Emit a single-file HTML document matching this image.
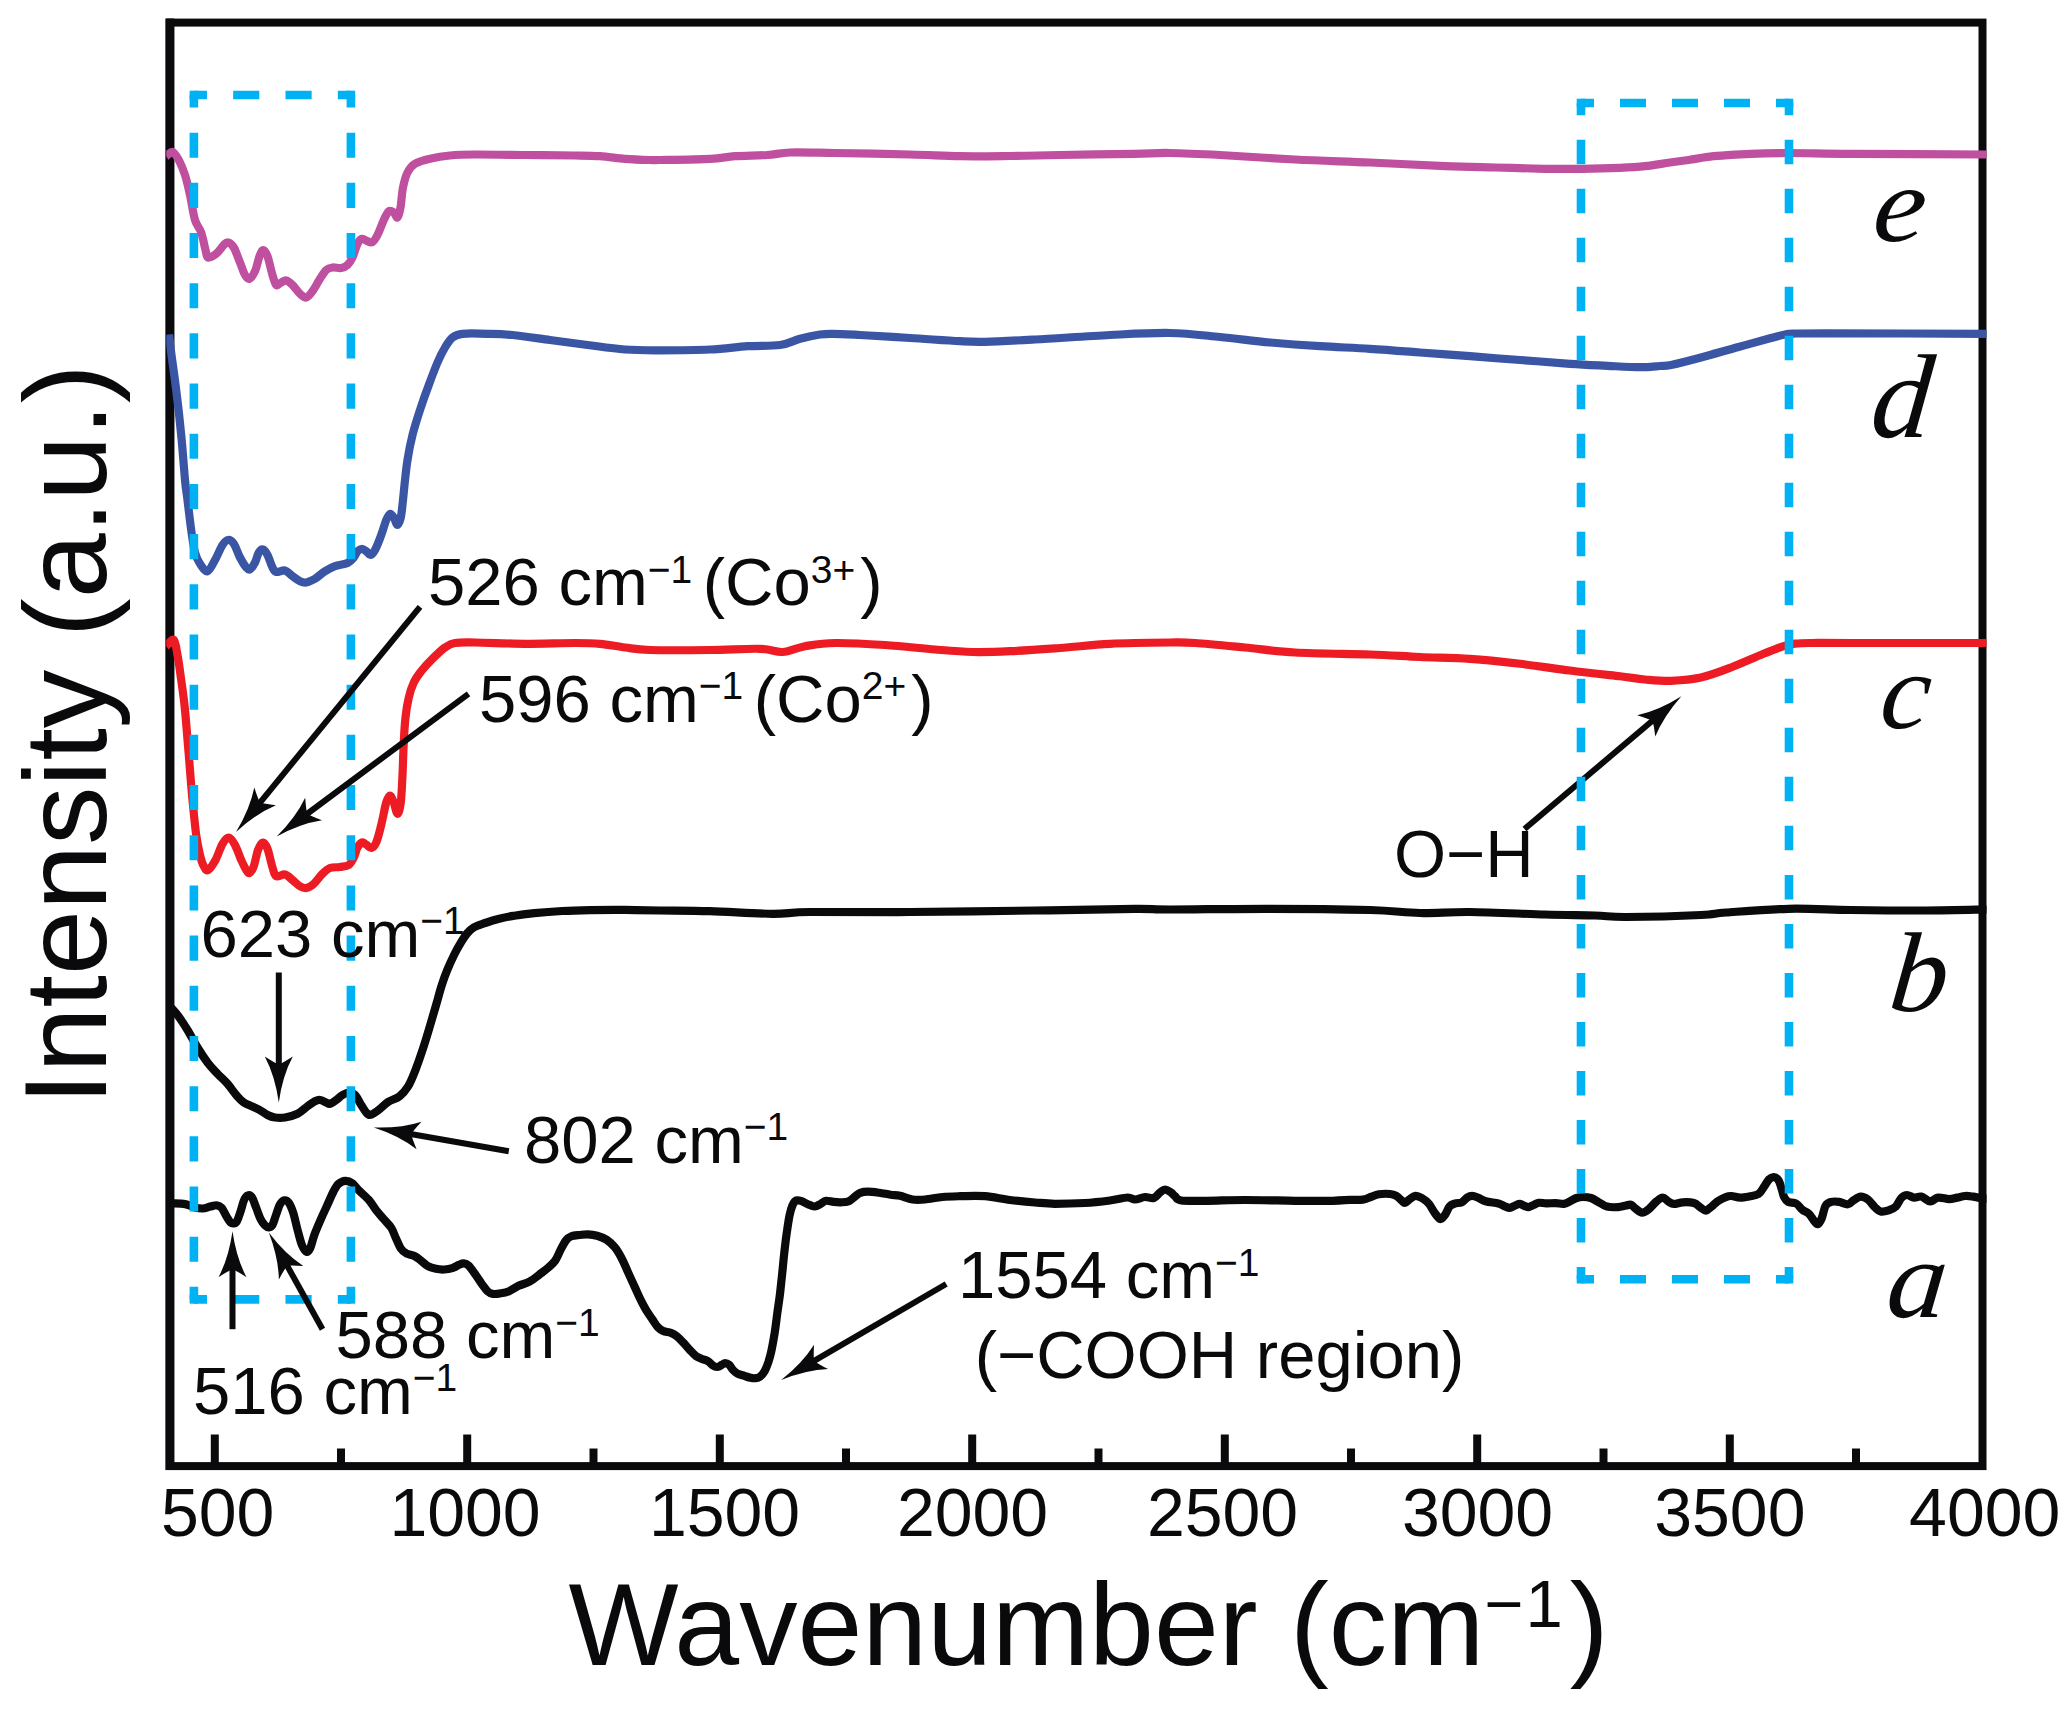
<!DOCTYPE html>
<html lang="en"><head><meta charset="utf-8"><title>FTIR spectra</title>
<style>html,body{margin:0;padding:0;background:#fff}svg{display:block}</style></head>
<body>
<svg width="2068" height="1711" viewBox="0 0 2068 1711" style="display:block">
<rect width="2068" height="1711" fill="#fff"/>
<g id="gfx">
<rect x="170.25" y="22.6" width="1812.25" height="1443.5" fill="none" stroke="#0a0a0c" stroke-width="8"/>
<line x1="169.8" y1="18.6" x2="169.8" y2="1470.1" stroke="#0a0a0c" stroke-width="8.9"/>
<g stroke="#0a0a0c" stroke-width="8"><line x1="214.8" y1="1434.5" x2="214.8" y2="1466.1"/><line x1="341" y1="1448.5" x2="341" y2="1466.1"/><line x1="467.2" y1="1434.5" x2="467.2" y2="1466.1"/><line x1="593.5" y1="1448.5" x2="593.5" y2="1466.1"/><line x1="719.8" y1="1434.5" x2="719.8" y2="1466.1"/><line x1="846" y1="1448.5" x2="846" y2="1466.1"/><line x1="972.2" y1="1434.5" x2="972.2" y2="1466.1"/><line x1="1098.5" y1="1448.5" x2="1098.5" y2="1466.1"/><line x1="1224.8" y1="1434.5" x2="1224.8" y2="1466.1"/><line x1="1351" y1="1448.5" x2="1351" y2="1466.1"/><line x1="1477.2" y1="1434.5" x2="1477.2" y2="1466.1"/><line x1="1603.5" y1="1448.5" x2="1603.5" y2="1466.1"/><line x1="1729.8" y1="1434.5" x2="1729.8" y2="1466.1"/><line x1="1856" y1="1448.5" x2="1856" y2="1466.1"/></g>
<clipPath id="cl"><rect x="166.25" y="0" width="1820.25" height="1711"/></clipPath>
<g fill="none" stroke-linejoin="round" stroke-linecap="butt" stroke-width="8.2" clip-path="url(#cl)">
<path d="M166.2 1203.5C167.3 1203.5 169.5 1203.3 172.6 1203.4C175.7 1203.5 181.5 1203.5 185.1 1204.1C188.7 1204.7 191 1206.5 193.9 1207.2C196.8 1207.9 200 1208.6 202.7 1208.5C205.4 1208.4 208 1207.1 210.3 1206.6C212.6 1206.1 214.7 1205.1 216.6 1205.3C218.5 1205.5 219.9 1205.9 221.6 1207.8C223.3 1209.7 225.1 1214.2 226.6 1216.6C228.1 1219 229.2 1221.1 230.4 1222.3C231.6 1223.5 232.4 1223.6 233.5 1223.5C234.6 1223.4 235.5 1223.7 236.7 1221.7C237.9 1219.7 239.2 1215.3 240.5 1211.6C241.8 1207.9 242.9 1202.4 244.2 1199.7C245.4 1197 246.7 1195.7 248 1195.3C249.3 1194.9 250.4 1195 251.8 1197.1C253.2 1199.2 254.7 1204.1 256.2 1207.8C257.7 1211.5 259.1 1216.2 260.6 1219.1C262.1 1222 263.6 1224 265 1225.4C266.4 1226.8 267.6 1227.4 268.8 1227.3C270.1 1227.2 271.2 1227 272.5 1224.8C273.8 1222.6 275 1217.5 276.3 1214.1C277.6 1210.6 278.7 1206.4 280.1 1204.1C281.5 1201.8 283 1200.5 284.5 1200.3C286 1200.1 287.4 1200.7 288.9 1202.8C290.4 1204.9 291.8 1208.3 293.3 1212.9C294.8 1217.5 296.2 1225.1 297.7 1230.5C299.2 1235.9 300.6 1242 302.1 1245.5C303.6 1249 305.1 1251.4 306.5 1251.8C307.9 1252.2 308.8 1251 310.2 1248.1C311.6 1245.2 312.8 1239 314.6 1234.2C316.4 1229.4 318.8 1223.9 320.9 1219.1C323 1214.3 325.1 1209.9 327.2 1205.3C329.3 1200.7 331.6 1195.1 333.5 1191.5C335.4 1187.9 336.5 1185.7 338.5 1183.9C340.5 1182.1 343.1 1180.9 345.4 1180.8C347.7 1180.7 350.2 1181.7 352.4 1183.3C354.6 1184.9 355.9 1187.5 358.6 1190.2C361.3 1192.9 365.8 1196.4 368.7 1199.7C371.6 1203 373.7 1207.1 376.2 1210.3C378.7 1213.5 381.3 1216.2 383.8 1219.1C386.3 1222 389.3 1224.8 391.3 1227.9C393.3 1231.1 394.2 1234.6 395.8 1238C397.4 1241.4 399.1 1246 400.8 1248.5C402.5 1251 403.9 1252 406.2 1253.3C408.5 1254.5 411.9 1254.8 414.4 1256C416.9 1257.2 418.9 1259 421.1 1260.7C423.4 1262.4 425.4 1264.8 427.9 1266.1C430.4 1267.4 433.3 1268.2 436 1268.8C438.7 1269.4 441.5 1269.6 444.2 1269.5C446.9 1269.4 449.8 1269 452.3 1268.2C454.8 1267.4 457.1 1265.6 459 1264.8C460.9 1264 462.2 1263.3 463.8 1263.4C465.4 1263.5 466.6 1263.6 468.5 1265.4C470.4 1267.2 473 1271.1 475.3 1274.3C477.6 1277.5 480.1 1281.6 482.1 1284.4C484.1 1287.2 485.7 1289.6 487.5 1291.2C489.3 1292.8 490.6 1293.6 492.9 1293.9C495.1 1294.2 498.3 1293.7 501 1293.2C503.7 1292.8 506.2 1292.4 509.1 1291.2C512 1290 515.2 1287.4 518.6 1285.8C522 1284.2 526.1 1283.5 529.5 1281.7C532.9 1279.9 535.8 1277.3 538.9 1274.9C542 1272.5 545.7 1269.9 548.4 1267.5C551.1 1265.1 553.2 1263.6 555.2 1260.7C557.2 1257.8 558.8 1253.3 560.6 1249.9C562.4 1246.5 564.2 1242.7 566 1240.4C567.8 1238.1 569.1 1237.2 571.4 1236.3C573.6 1235.4 576.8 1235.3 579.5 1235C582.2 1234.7 584.8 1234.2 587.7 1234.3C590.6 1234.4 594 1234.8 597.1 1235.7C600.2 1236.6 603.7 1237.8 606.6 1239.7C609.5 1241.6 612.2 1244.2 614.7 1247.2C617.2 1250.2 619.2 1253.7 621.5 1258C623.8 1262.3 626 1267.9 628.3 1272.9C630.6 1277.9 633.1 1283.4 635.1 1287.8C637.1 1292.2 638.6 1295.8 640.5 1299.5C642.4 1303.2 644.2 1306.8 646.2 1310.1C648.2 1313.4 650.5 1316.6 652.4 1319.4C654.3 1322.2 656 1325.2 657.8 1327.1C659.6 1329 661 1330 663.2 1331C665.4 1332 668.6 1332 670.9 1332.9C673.2 1333.8 675 1334.8 677.1 1336.4C679.2 1338 681.2 1340.4 683.3 1342.6C685.4 1344.8 687.4 1347.4 689.5 1349.6C691.6 1351.8 693.6 1354.2 695.7 1355.8C697.8 1357.3 699.8 1358 701.9 1358.9C704 1359.8 706.3 1360.1 708.1 1361.2C709.9 1362.3 711.2 1364.4 712.7 1365.4C714.2 1366.4 715.9 1367.1 717.4 1367C718.9 1366.9 720.7 1365.4 722 1364.7C723.3 1364 723.9 1363.1 725.1 1363.1C726.3 1363.1 727.7 1363.6 729 1364.7C730.3 1365.8 731.4 1368.2 732.8 1369.7C734.2 1371.2 735.6 1372.6 737.5 1373.6C739.4 1374.6 742.2 1375.2 744.4 1375.9C746.6 1376.6 748.8 1377.4 750.6 1377.8C752.4 1378.2 753.8 1378.4 755.3 1378.2C756.8 1378 758.3 1377.9 759.9 1376.7C761.5 1375.5 763.2 1373.7 764.6 1371.2C766 1368.8 767.2 1365.5 768.4 1362C769.5 1358.5 770.5 1355.1 771.5 1350.3C772.5 1345.5 773.6 1339.5 774.6 1333.3C775.6 1327.1 776.5 1319.2 777.3 1313.2C778.1 1307.2 778.8 1303.1 779.6 1297C780.4 1290.9 781.1 1283.6 781.9 1276.4C782.7 1269.2 783.4 1260.6 784.2 1253.6C785 1246.6 785.6 1240.9 786.5 1234.6C787.4 1228.3 788.5 1220.5 789.5 1215.6C790.5 1210.7 791.5 1207.5 792.6 1205C793.8 1202.5 794.9 1201 796.4 1200.4C797.9 1199.8 799.8 1200.6 801.7 1201.2C803.6 1201.8 805.6 1203.3 807.8 1204.2C809.9 1205.1 812.5 1206.6 814.6 1206.5C816.8 1206.4 818.8 1204.8 820.7 1203.8C822.6 1202.8 823.9 1201.1 826 1200.8C828.1 1200.5 831.1 1201.7 833.6 1201.9C836.1 1202.2 838.7 1202.4 841.2 1202.3C843.7 1202.2 846.5 1202.2 848.8 1201.2C851.1 1200.2 853 1198 854.9 1196.6C856.8 1195.2 858.1 1193.6 860.2 1192.8C862.4 1192 864.6 1191.7 867.8 1191.7C871 1191.7 875.4 1192.3 879.2 1192.8C883 1193.3 887.1 1194.2 890.6 1194.7C894.1 1195.2 896.4 1195 900 1195.8C903.6 1196.6 908.3 1198.9 912.5 1199.5C916.7 1200.1 920 1199.9 925 1199.5C930 1199.1 936.7 1197.5 942.5 1197C948.3 1196.5 952.9 1196.4 960 1196.2C967.1 1196.1 976.7 1195.6 985 1196.2C993.3 1196.9 1001.7 1199 1010 1200C1018.3 1201 1027.5 1201.9 1035 1202.5C1042.5 1203.1 1046.7 1203.7 1055 1203.8C1063.3 1203.8 1075.8 1203.5 1085 1203C1094.2 1202.5 1102.9 1201.4 1110 1200.5C1117.1 1199.6 1123.3 1197.7 1127.5 1197.5C1131.7 1197.3 1132.1 1199.6 1135 1199.5C1137.9 1199.4 1141.9 1197.2 1145 1197C1148.1 1196.8 1151.2 1198.8 1153.8 1198C1156.2 1197.2 1158.1 1193.9 1160 1192.5C1161.9 1191.1 1163.2 1189.5 1165 1189.5C1166.8 1189.5 1169.3 1191.4 1171 1192.5C1172.7 1193.6 1173.3 1194.9 1175 1196.2C1176.7 1197.6 1175.8 1199.8 1181.2 1200.5C1186.7 1201.2 1196.9 1200.8 1207.5 1200.8C1218.1 1200.7 1230.4 1200 1245 1200C1259.6 1200 1280.4 1200.6 1295 1200.8C1309.6 1200.9 1323.3 1200.9 1332.5 1200.8C1341.7 1200.6 1345 1200.1 1350 1199.9C1355 1199.7 1359.3 1200.1 1362.8 1199.6C1366.2 1199.1 1368 1197.9 1370.7 1197C1373.4 1196.1 1375.5 1194.8 1378.7 1194.3C1381.9 1193.8 1387 1193.7 1389.9 1194C1392.8 1194.3 1394.3 1194.8 1396.3 1195.9C1398.3 1197 1400.5 1199.6 1401.9 1200.7C1403.4 1201.8 1403.7 1203.1 1405 1202.8C1406.3 1202.5 1408.1 1200.2 1409.8 1199.1C1411.5 1197.9 1413.4 1196.1 1415.4 1195.9C1417.4 1195.7 1419.5 1196.7 1421.8 1198C1424.1 1199.3 1426.9 1201.5 1429 1203.9C1431.1 1206.4 1432.7 1210.2 1434.6 1212.7C1436.5 1215.2 1438.5 1218.6 1440.2 1219C1441.9 1219.4 1443.3 1217.1 1444.9 1215C1446.5 1212.9 1448 1208.2 1449.7 1206.3C1451.4 1204.4 1453.3 1204.1 1455.3 1203.4C1457.3 1202.7 1459.7 1203.3 1461.7 1202.3C1463.7 1201.3 1465.6 1198.6 1467.3 1197.5C1469 1196.4 1470.4 1195.9 1472.1 1195.9C1473.8 1195.9 1475.5 1196.6 1477.7 1197.5C1480 1198.4 1482.1 1200.2 1485.6 1201.2C1489 1202.2 1495.2 1202.6 1498.4 1203.4C1501.6 1204.2 1502.9 1205.5 1504.8 1206.3C1506.7 1207 1507.9 1208 1509.6 1207.9C1511.3 1207.8 1513.5 1206.2 1515.2 1205.5C1516.9 1204.8 1518.3 1203.8 1519.9 1203.9C1521.5 1204 1523.2 1205.5 1524.7 1206C1526.2 1206.5 1527.2 1207.3 1528.7 1207.1C1530.2 1206.9 1531.8 1205.7 1533.5 1205C1535.2 1204.3 1537 1203.1 1539.1 1202.8C1541.2 1202.5 1543.5 1203.4 1546.3 1203.4C1549.1 1203.5 1552.9 1203 1555.8 1203.1C1558.7 1203.2 1561.4 1204.2 1563.8 1203.9C1566.2 1203.6 1568.1 1202.2 1570.2 1201.2C1572.3 1200.2 1574.5 1198.7 1576.6 1198C1578.7 1197.3 1580.6 1197 1583 1197C1585.4 1197 1588.2 1197.1 1590.9 1198C1593.6 1198.9 1596.2 1200.9 1598.9 1202.3C1601.6 1203.7 1603.7 1205.8 1606.9 1206.6C1610.1 1207.4 1614.9 1207.3 1618.1 1207.1C1621.3 1206.9 1623.9 1205.9 1626 1205.5C1628.1 1205.1 1629.2 1204.2 1630.8 1204.7C1632.4 1205.2 1633.7 1207.4 1635.6 1208.7C1637.5 1210 1639.9 1212.6 1642 1212.7C1644.1 1212.8 1646 1211.4 1648.4 1209.5C1650.8 1207.6 1654 1203.5 1656.4 1201.5C1658.8 1199.5 1660.7 1197.5 1662.7 1197.5C1664.7 1197.5 1666.4 1200.4 1668.3 1201.5C1670.2 1202.6 1671.5 1203.8 1673.9 1203.9C1676.3 1204 1679.5 1202.5 1682.8 1202.3C1686.1 1202.1 1691 1202.2 1693.9 1203C1696.8 1203.8 1698.3 1206.1 1700.3 1207.4C1702.3 1208.7 1704 1210.7 1705.9 1210.6C1707.8 1210.5 1709.5 1208.2 1711.5 1206.6C1713.5 1205 1715.5 1202.7 1717.9 1201.1C1720.3 1199.5 1723.5 1197.9 1725.8 1197.1C1728 1196.2 1729 1195.9 1731.4 1196C1733.8 1196.1 1737.1 1197.5 1740.2 1197.6C1743.3 1197.6 1746.7 1196.9 1749.8 1196.3C1752.9 1195.7 1756.2 1195.5 1758.6 1193.9C1761 1192.3 1762.4 1189.1 1764.1 1186.7C1765.8 1184.3 1767.3 1181.1 1768.9 1179.5C1770.5 1177.9 1772.1 1177 1773.7 1177.1C1775.3 1177.2 1777.2 1178.3 1778.5 1180.3C1779.8 1182.3 1780.8 1186.3 1781.7 1189.1C1782.6 1191.9 1783 1195 1784.1 1197.1C1785.2 1199.2 1786.1 1200.8 1788.1 1201.9C1790.1 1203 1793.7 1202.2 1796.1 1203.5C1798.5 1204.8 1800.3 1208.1 1802.4 1209.8C1804.5 1211.5 1806.9 1212.1 1808.8 1213.8C1810.7 1215.5 1812.1 1218.5 1813.6 1220.2C1815.1 1221.9 1816.3 1224.5 1817.6 1224.2C1818.9 1223.9 1820.3 1221.7 1821.6 1218.6C1822.9 1215.5 1824 1208.6 1825.6 1205.8C1827.2 1203 1829 1202.6 1831.2 1201.9C1833.5 1201.2 1836.3 1201.5 1839.1 1201.9C1841.9 1202.3 1845.5 1204.6 1847.9 1204.3C1850.3 1204 1851.4 1201.6 1853.5 1200.3C1855.6 1199 1858.3 1196.7 1860.7 1196.6C1863.1 1196.5 1865.5 1197.7 1867.9 1199.5C1870.3 1201.3 1872.9 1205.4 1875 1207.4C1877.1 1209.4 1878.3 1210.9 1880.6 1211.4C1882.9 1211.9 1886.1 1211.1 1888.6 1210.3C1891.1 1209.5 1893.7 1208.7 1895.8 1206.6C1897.9 1204.5 1899.5 1199.8 1901.4 1197.9C1903.3 1196 1904.9 1195 1907 1195C1909.1 1195 1911.7 1197.3 1914.1 1197.6C1916.5 1197.9 1918.6 1196 1921.3 1196.6C1924 1197.2 1927.3 1201.2 1930.1 1201.4C1932.9 1201.6 1934.9 1198 1938.1 1197.6C1941.3 1197.2 1946 1199.1 1949.2 1199.1C1952.4 1199.1 1954.5 1198.1 1957.2 1197.6C1959.9 1197.1 1962.5 1196.2 1965.2 1196C1967.9 1195.8 1970.8 1196.3 1973.2 1196.6C1975.6 1196.9 1977.4 1197.6 1979.6 1197.9C1981.8 1198.2 1984.3 1198.6 1986.5 1198.7C1988.7 1198.8 1991.5 1198.7 1992.5 1198.7" stroke="#0a0a0c"/>
<path d="M166.2 1002.5C168.1 1004.6 174 1010.4 177.5 1015C181 1019.6 184.2 1024.6 187.5 1030C190.8 1035.4 194.2 1042.1 197.5 1047.5C200.8 1052.9 204.2 1058.1 207.5 1062.5C210.8 1066.9 214.2 1070.2 217.5 1073.8C220.8 1077.3 224.4 1080.2 227.5 1083.8C230.6 1087.3 233.5 1091.9 236.2 1095C239 1098.1 240.2 1100.2 243.8 1102.5C247.3 1104.8 253.5 1106.7 257.5 1108.8C261.5 1110.8 264.6 1113.5 267.5 1115C270.4 1116.5 272.1 1117.1 275 1117.5C277.9 1117.9 281.2 1118.1 285 1117.5C288.8 1116.9 293.8 1115.6 297.5 1113.8C301.2 1111.9 304.6 1108.3 307.5 1106.2C310.4 1104.2 312.9 1102.3 315 1101.2C317.1 1100.2 318.1 1099.8 320 1100C321.9 1100.2 324.6 1101.9 326.2 1102.5C327.9 1103.1 328.3 1104.2 330 1103.8C331.7 1103.3 334.2 1101.5 336.2 1100C338.3 1098.5 340.4 1096.2 342.5 1095C344.6 1093.8 346.7 1092.5 348.8 1092.5C350.8 1092.5 352.9 1092.9 355 1095C357.1 1097.1 359.4 1102.1 361.2 1105C363.1 1107.9 364.8 1110.8 366.2 1112.5C367.7 1114.2 368.5 1115 370 1115C371.5 1115 373.3 1113.5 375 1112.5C376.7 1111.5 377.8 1110.6 380 1108.8C382.2 1107 385.1 1103.9 388.4 1101.8C391.7 1099.7 396.3 1098.8 399.6 1096.2C402.9 1093.6 405.5 1090.6 408.1 1086.4C410.7 1082.2 412.8 1076.8 415.1 1070.9C417.4 1065.1 419.8 1058.3 422.1 1051.3C424.4 1044.3 426.8 1036.5 429.1 1028.8C431.4 1021.1 434 1012.2 436.1 1005C438.2 997.8 439.8 991.2 441.7 985.4C443.6 979.5 445.2 975 447.3 969.9C449.4 964.8 452 959.2 454.3 954.5C456.6 949.8 459.2 945.4 461.3 941.9C463.4 938.4 464.9 936 467 933.5C469.1 931 471 929 474 927.2C477 925.5 481 924.4 485.2 923C489.4 921.6 494.5 920 499.2 918.8C503.9 917.6 507.4 916.8 513.2 915.9C519.1 915 526.1 913.9 534.3 913.1C542.5 912.3 552.9 911.5 562.3 911C571.6 910.5 579.9 910.3 590.4 910.1C600.9 909.9 613.4 909.8 625 909.9C636.6 910 645.8 910.3 660 910.5C674.2 910.7 691.2 910.7 710 911.2C728.8 911.8 755.8 913.6 772.5 913.8C789.2 913.9 787.1 912.3 810 912C832.9 911.7 872.5 912.2 910 912C947.5 911.8 997.5 911 1035 910.5C1072.5 910 1112.5 908.9 1135 908.8C1157.5 908.6 1147.5 909.5 1170 909.5C1192.5 909.5 1236.7 908.7 1270 908.8C1303.3 908.8 1345 909.3 1370 910C1395 910.7 1403.3 912.7 1420 913C1436.7 913.3 1449.2 911.8 1470 912C1490.8 912.2 1524.2 913.9 1545 914.5C1565.8 915.1 1581.5 915.1 1595 915.5C1608.5 915.9 1608.3 917.1 1626 917C1643.7 916.9 1684.3 915.8 1701 915C1717.7 914.2 1711.4 913.5 1726 912.5C1740.6 911.5 1767.7 909.2 1788.5 908.8C1809.3 908.3 1828.1 909.7 1851 910C1873.9 910.3 1903.4 910.6 1926 910.5C1948.6 910.4 1975.4 909.7 1986.5 909.5C1997.6 909.3 1991.5 909.5 1992.5 909.5" stroke="#0a0a0c"/>
<path d="M166.2 646.2C167.5 645.2 171.9 638.5 173.8 640C175.6 641.5 176.2 648.3 177.5 655C178.8 661.7 180 670.8 181.2 680C182.5 689.2 183.8 697.5 185 710C186.2 722.5 187.5 740 188.8 755C190 770 191.2 786.7 192.5 800C193.8 813.3 195 825.8 196.2 835C197.5 844.2 198.8 849.8 200 855C201.2 860.2 202.4 863.8 203.8 866.2C205.1 868.8 206 871 208 870C210 869 213.1 864.4 215.5 860C217.9 855.6 220.3 847.5 222.5 843.8C224.7 840 226.7 837.3 228.8 837.5C230.8 837.7 232.9 841.2 235 845C237.1 848.8 239.4 855.8 241.2 860C243.1 864.2 244.9 867.8 246.2 870C247.6 872.2 248.2 873.6 249.5 873C250.8 872.4 252.3 870.1 253.8 866.2C255.2 862.4 256.5 854 258 850C259.5 846 261.4 842.7 263 842.5C264.6 842.3 265.9 844.6 267.5 848.8C269.1 852.9 271 862.9 272.5 867.5C274 872.1 274.2 875.1 276.2 876.2C278.3 877.4 282.3 873.9 285 874.5C287.7 875.1 290 878 292.5 880C295 882 297.7 884.9 300 886.2C302.3 887.6 304 888.4 306.2 888C308.5 887.6 311 886.1 313.8 883.8C316.5 881.4 319.8 876.4 322.5 873.8C325.2 871.1 327.1 869.1 330 868C332.9 866.9 336.9 867.5 340 867C343.1 866.5 346.5 866.6 348.8 865C351 863.4 352.3 860.4 353.8 857.5C355.2 854.6 356.1 850 357.5 847.5C358.9 845 360.5 843 362 842.5C363.5 842 364.7 843.6 366.2 844.5C367.8 845.4 369.6 848.3 371.2 848C372.9 847.7 374.6 846.3 376.2 842.5C377.9 838.7 379.6 831.7 381.2 825C382.9 818.3 384.8 807.4 386.2 802.5C387.7 797.6 388.8 795.5 390 795.5C391.2 795.5 392.5 799.5 393.8 802.5C395 805.5 396.3 813.8 397.5 813.8C398.7 813.8 399.9 809 400.8 802.5C401.6 796 402 785 402.5 775C403 765 403.2 752.1 403.8 742.5C404.2 732.9 404.7 725 405.5 717.5C406.3 710 407.4 703.3 408.8 697.5C410.1 691.7 411.7 686.9 413.8 682.5C415.8 678.1 418.1 675.2 421.2 671.2C424.4 667.3 428.5 662.7 432.5 658.8C436.5 654.8 441.2 650.1 445 647.5C448.8 644.9 450 643.8 455 643C460 642.2 463.3 642.4 475 642.5C486.7 642.6 508.3 643.7 525 643.8C541.7 643.8 562.5 643 575 643C587.5 643 591.7 643 600 643.8C608.3 644.5 616.7 646.5 625 647.5C633.3 648.5 635.8 649.6 650 650C664.2 650.4 691.7 650.2 710 650C728.3 649.8 747.9 648.4 760 648.8C772.1 649.1 775 652.4 782.5 652C790 651.6 796.2 647.8 805 646.2C813.8 644.8 821.7 643.2 835 643C848.3 642.8 868.3 643.9 885 645C901.7 646.1 920.4 648.3 935 649.5C949.6 650.7 960 651.7 972.5 652C985 652.3 995.4 651.9 1010 651.2C1024.6 650.6 1043.3 649.2 1060 648C1076.7 646.8 1091.7 644.7 1110 643.8C1128.3 642.8 1155.8 642.6 1170 642.5C1184.2 642.4 1182.5 642.2 1195 643C1207.5 643.8 1228.3 645.9 1245 647.5C1261.7 649.1 1274.2 651.3 1295 652.5C1315.8 653.7 1349.2 653.8 1370 654.5C1390.8 655.2 1403.3 656.3 1420 657C1436.7 657.7 1453.3 657.6 1470 658.8C1486.7 659.9 1503.3 661.8 1520 663.8C1536.7 665.7 1553.3 668.4 1570 670.5C1586.7 672.6 1607.5 674.8 1620 676.2C1632.5 677.8 1636.5 678.8 1645 679.5C1653.5 680.2 1661.7 681.1 1671 680.8C1680.3 680.4 1691 679.7 1701 677.5C1711 675.3 1720.6 671.5 1731 667.5C1741.4 663.5 1754.8 657.3 1763.5 653.8C1772.2 650.2 1777.8 648 1783 646.3C1788.2 644.6 1790.2 644.1 1795 643.6C1799.8 643.1 1802.7 643.1 1812 643C1821.3 642.9 1821.9 643 1851 643C1880.1 643 1962.9 643 1986.5 643C2010.1 643 1991.5 643 1992.5 643" stroke="#ed1c24"/>
<path d="M169 334.5C169.4 337.9 170.3 345.8 171.5 355C172.7 364.2 174.6 376.7 176.2 390C177.9 403.3 179.8 420 181.2 435C182.7 450 184 469.2 185 480C186 490.8 186.5 491.7 187.5 500C188.5 508.3 190 521.2 191.2 530C192.5 538.8 193.5 546.9 195 552.5C196.5 558.1 197.9 560.6 200 563.8C202.1 566.9 205 571.9 207.5 571.2C210 570.6 212.5 564.4 215 560C217.5 555.6 220.3 548.3 222.5 545C224.7 541.7 226.1 540.2 228 540C229.9 539.8 231.8 540.8 233.8 543.8C235.8 546.7 237.9 553.5 240 557.5C242.1 561.5 244.6 565.5 246.2 567.5C247.9 569.5 248.5 570.3 250 569.5C251.5 568.7 253.5 565.3 255 562.5C256.5 559.7 257.4 554.7 258.8 552.5C260.1 550.3 261.5 549.1 263 549.5C264.5 549.9 265.9 552 267.5 555C269.1 558 271 564.7 272.5 567.5C274 570.3 274.2 571.5 276.2 572C278.3 572.5 282.3 569.8 285 570.5C287.7 571.2 290 574.5 292.5 576.2C295 578 297.7 580.2 300 581.2C302.3 582.3 303.8 582.9 306.2 582.5C308.8 582.1 311.9 580.6 315 578.8C318.1 576.9 321.7 573.3 325 571.2C328.3 569.2 331.2 567.6 335 566.2C338.8 564.9 344.4 564.5 347.5 563C350.6 561.5 352.1 559.5 353.8 557.5C355.4 555.5 356.1 552.7 357.5 551.2C358.9 549.8 360.5 548.8 362 548.8C363.5 548.8 364.8 550.2 366.2 551.2C367.7 552.3 369 555.2 370.5 555C372 554.8 373.2 553.3 375 550C376.8 546.7 379.4 540 381.2 535C383.1 530 384.8 523.5 386.2 520C387.7 516.5 388.8 514.2 390 513.8C391.2 513.3 392.5 515.6 393.8 517.5C395 519.4 396.3 525 397.5 525C398.7 525 399.8 521.7 400.8 517.5C401.7 513.3 402.4 505.4 403 500C403.6 494.6 403.8 491.7 404.5 485C405.2 478.3 406.2 468.3 407.5 460C408.8 451.7 410.4 443.3 412.5 435C414.6 426.7 417.3 418.3 420 410C422.7 401.7 425.8 392.9 428.8 385C431.7 377.1 434.8 368.8 437.5 362.5C440.2 356.2 442.5 351.7 445 347.5C447.5 343.3 449.6 339.8 452.5 337.5C455.4 335.2 456.7 334.4 462.5 333.8C468.3 333.1 479.2 333.5 487.5 333.8C495.8 334 502.1 334 512.5 335C522.9 336 537.5 338.3 550 340C562.5 341.7 575 343.4 587.5 345C600 346.6 612.9 348.6 625 349.5C637.1 350.4 645.8 350.3 660 350.3C674.2 350.3 695.4 350.2 710 349.5C724.6 348.8 735.8 347 747.5 346.2C759.2 345.5 771.2 346.2 780 345C788.8 343.8 793.3 340.5 800 338.8C806.7 337 814.6 335.3 820 334.5C825.4 333.7 825.8 333.7 832.5 333.8C839.2 333.8 847.1 334.3 860 335C872.9 335.7 893.3 337 910 338C926.7 339 947.5 340.6 960 341.2C972.5 341.9 972.5 342 985 341.8C997.5 341.5 1014.2 340.6 1035 339.5C1055.8 338.4 1087.5 336.1 1110 335C1132.5 333.9 1151.7 332.7 1170 333C1188.3 333.3 1203.3 335.4 1220 337C1236.7 338.6 1253.3 341 1270 342.5C1286.7 344 1303.3 345.2 1320 346.2C1336.7 347.3 1353.3 347.7 1370 348.8C1386.7 349.8 1403.3 351.2 1420 352.5C1436.7 353.8 1453.3 355 1470 356.2C1486.7 357.5 1503.3 358.8 1520 360C1536.7 361.2 1555.4 362.8 1570 363.8C1584.6 364.7 1595.8 365.2 1607.5 365.8C1619.2 366.4 1631.2 367.2 1640 367.2C1648.8 367.2 1654.8 366.4 1660 366C1665.2 365.6 1664.2 366.4 1671 365C1677.8 363.6 1689.8 360.5 1701 357.5C1712.2 354.5 1726.8 350.2 1738.5 347C1750.2 343.8 1763.4 340 1771 338C1778.6 336 1780.3 335.5 1784 334.8C1787.7 334.1 1786 333.9 1793 333.6C1800 333.4 1793.8 333.3 1826 333.3C1858.2 333.3 1958.8 333.7 1986.5 333.8C2014.2 333.8 1991.5 333.8 1992.5 333.8" stroke="#3b55a5"/>
<path d="M166.2 156.2C167.3 155.5 170.4 151.4 172.5 152C174.6 152.6 176.7 156.2 178.8 160C180.8 163.8 183.1 169.2 185 175C186.9 180.8 188.3 187.5 190 195C191.7 202.5 193.1 213.8 195 220C196.9 226.2 199.5 227.5 201.2 232.5C203 237.5 204.4 245.8 205.5 250C206.6 254.2 206.2 256.9 208 257.5C209.8 258.1 213.6 255.8 216.2 253.8C218.9 251.7 221.8 246.9 223.8 245C225.7 243.1 226.3 242.1 228 242.5C229.7 242.9 231.8 244.2 233.8 247.5C235.8 250.8 238.1 257.9 240 262.5C241.9 267.1 243.4 272.3 245 275C246.6 277.7 247.8 279.4 249.5 278.8C251.2 278.1 253.3 275 255 271.2C256.7 267.5 258.1 259.8 259.5 256.2C260.9 252.7 261.9 250 263.2 250C264.6 250 266 252.1 267.5 256.2C269 260.4 271 270.2 272.5 275C274 279.8 274.8 283.8 276.2 285C277.7 286.2 279.6 283.2 281.2 282.5C282.9 281.8 284.4 280.1 286.2 280.5C288.1 280.9 290.2 282.8 292.5 285C294.8 287.2 297.7 291.7 300 293.8C302.3 295.8 304.2 297.9 306.2 297.5C308.3 297.1 310.2 294.4 312.5 291.2C314.8 288.1 317.7 282.3 320 278.8C322.3 275.2 324.2 271.9 326.2 270C328.3 268.1 330 267.8 332.5 267.5C335 267.2 338.8 268.4 341.2 268C343.8 267.6 345.6 266.8 347.5 265C349.4 263.2 350.8 261 352.5 257.5C354.2 254 355.9 246.9 357.5 243.8C359.1 240.6 360.3 239.2 362 238.8C363.7 238.3 365.8 240.7 367.5 241.2C369.2 241.8 370.8 243 372.5 242C374.2 241 375.6 238.7 377.5 235C379.4 231.3 381.9 224 383.8 220C385.6 216 387.1 212.5 388.8 211.2C390.4 210 392.3 211.5 393.8 212.5C395.2 213.5 396.4 218.3 397.5 217.5C398.6 216.7 399.6 212.5 400.5 207.5C401.4 202.5 401.8 193.3 403 187.5C404.2 181.7 405.5 176.5 407.5 172.5C409.5 168.5 411.2 166 415 163.8C418.8 161.5 424.2 160.1 430 158.8C435.8 157.4 442.5 156.2 450 155.5C457.5 154.8 462.5 154.6 475 154.5C487.5 154.4 508.3 154.8 525 155C541.7 155.2 562.5 155.3 575 155.5C587.5 155.7 591.7 155.7 600 156.2C608.3 156.8 616.7 158.1 625 158.8C633.3 159.4 644.2 159.8 650 160C655.8 160.2 650 160.2 660 160C670 159.8 697.5 159.4 710 158.8C722.5 158.1 725.4 156.9 735 156.2C744.6 155.6 758.3 155.6 767.5 155C776.7 154.4 778.8 152.8 790 152.5C801.2 152.2 815 152.7 835 153C855 153.3 889.2 154 910 154.5C930.8 155 943.3 156 960 156.2C976.7 156.5 993.3 156.2 1010 156C1026.7 155.8 1039.2 155.4 1060 155C1080.8 154.6 1116.7 154.1 1135 153.8C1153.3 153.4 1155.8 152.8 1170 153C1184.2 153.2 1199.2 153.9 1220 155C1240.8 156.1 1270 158.2 1295 159.5C1320 160.8 1345 161.4 1370 162.5C1395 163.6 1424.2 165.4 1445 166.2C1465.8 167.1 1478.3 167.1 1495 167.5C1511.7 167.9 1530.4 168.5 1545 168.8C1559.6 169 1570 168.9 1582.5 168.8C1595 168.6 1609.6 168.2 1620 167.8C1630.4 167.4 1636.7 167.1 1645 166.2C1653.3 165.4 1662.8 163.5 1670 162.5C1677.2 161.5 1681.2 161 1688.5 160C1695.8 159 1703.1 157.3 1713.5 156.2C1723.9 155.2 1738.5 154.3 1751 153.8C1763.5 153.2 1771.8 153 1788.5 153C1805.2 153 1818 153.5 1851 153.8C1884 154 1962.9 154.4 1986.5 154.5C2010.1 154.6 1991.5 154.5 1992.5 154.5" stroke="#bf509f"/>
</g>
<g stroke="#00b2f3" stroke-width="8.6" fill="none">
<line x1="193.9" y1="95" x2="350.9" y2="95" stroke-dasharray="26.167 26.167" stroke-dashoffset="13.083"/>
<line x1="193.9" y1="1299.4" x2="350.9" y2="1299.4" stroke-dasharray="26.167 26.167" stroke-dashoffset="13.083"/>
<line x1="193.9" y1="95" x2="193.9" y2="1299.4" stroke-dasharray="25.092 25.092" stroke-dashoffset="12.546"/>
<line x1="350.9" y1="95" x2="350.9" y2="1299.4" stroke-dasharray="25.092 25.092" stroke-dashoffset="12.546"/>
</g>
<g fill="#00b2f3">
<rect x="189.6" y="90.7" width="8.6" height="8.6"/>
<rect x="346.6" y="90.7" width="8.6" height="8.6"/>
<rect x="189.6" y="1295.1" width="8.6" height="8.6"/>
<rect x="346.6" y="1295.1" width="8.6" height="8.6"/>
</g>
<line x1="420" y1="606.8" x2="258.8" y2="804.1" stroke="#0a0a0c" stroke-width="6.0"/><path d="M236 832Q250 808.9 254.3 787.5Q258 798.9 260 802.6Q264 803.9 275.9 805.2Q255.8 813.7 236 832Z" fill="#0a0a0c"/>
<line x1="468.5" y1="693.8" x2="305.6" y2="815" stroke="#0a0a0c" stroke-width="6.0"/><path d="M276.7 836.5Q295.8 817.5 305.2 797.8Q306.1 809.8 307.2 813.8Q310.7 816.1 322 820.3Q300.4 823.6 276.7 836.5Z" fill="#0a0a0c"/>
<line x1="1524.5" y1="829" x2="1653.9" y2="719.5" stroke="#0a0a0c" stroke-width="6.0"/><path d="M1681.4 696.2Q1663.5 716.3 1655.3 736.6Q1653.8 724.7 1652.4 720.7Q1648.7 718.7 1637.2 715.2Q1658.6 710.6 1681.4 696.2Z" fill="#0a0a0c"/>
<line x1="278.8" y1="972.5" x2="278.8" y2="1066.5" stroke="#0a0a0c" stroke-width="6.0"/><path d="M278.8 1102.5Q275 1075.8 264.8 1056.5Q274.8 1063 278.8 1064.5Q282.7 1063 292.8 1056.5Q282.5 1075.8 278.8 1102.5Z" fill="#0a0a0c"/>
<line x1="508.8" y1="1151.2" x2="409.2" y2="1133.7" stroke="#0a0a0c" stroke-width="6.0"/><path d="M373.8 1127.5Q400.7 1128.4 421.5 1121.7Q413.3 1130.5 411.2 1134.1Q412 1138.2 416.6 1149.3Q399.4 1135.8 373.8 1127.5Z" fill="#0a0a0c"/>
<line x1="232.5" y1="1329.2" x2="232.5" y2="1267.2" stroke="#0a0a0c" stroke-width="6.0"/><path d="M232.5 1231.2Q236.3 1257.9 246.5 1277.2Q236.4 1270.8 232.5 1269.2Q228.6 1270.8 218.5 1277.2Q228.7 1257.9 232.5 1231.2Z" fill="#0a0a0c"/>
<line x1="322.5" y1="1329.2" x2="286.2" y2="1264" stroke="#0a0a0c" stroke-width="6.0"/><path d="M268.8 1232.5Q285 1254 303.3 1265.9Q291.4 1265.1 287.2 1265.7Q284.5 1268.9 278.9 1279.5Q278.4 1257.7 268.8 1232.5Z" fill="#0a0a0c"/>
<line x1="946.2" y1="1284" x2="812.4" y2="1361.9" stroke="#0a0a0c" stroke-width="6.0"/><path d="M781.2 1380Q802.4 1363.3 814 1344.8Q813.4 1356.7 814.1 1360.9Q817.4 1363.5 828.1 1369Q806.2 1369.9 781.2 1380Z" fill="#0a0a0c"/>
<g stroke="#00b2f3" stroke-width="8.6" fill="none">
<line x1="1581" y1="103" x2="1789" y2="103" stroke-dasharray="26.000 26.000" stroke-dashoffset="13.000"/>
<line x1="1581" y1="1279.2" x2="1789" y2="1279.2" stroke-dasharray="26.000 26.000" stroke-dashoffset="13.000"/>
<line x1="1581" y1="103" x2="1581" y2="1279.2" stroke-dasharray="24.504 24.504" stroke-dashoffset="12.252"/>
<line x1="1789" y1="103" x2="1789" y2="1279.2" stroke-dasharray="24.504 24.504" stroke-dashoffset="12.252"/>
</g>
<g fill="#00b2f3">
<rect x="1576.7" y="98.7" width="8.6" height="8.6"/>
<rect x="1784.7" y="98.7" width="8.6" height="8.6"/>
<rect x="1576.7" y="1274.9" width="8.6" height="8.6"/>
<rect x="1784.7" y="1274.9" width="8.6" height="8.6"/>
</g>
</g>
<g font-family="'Liberation Sans', sans-serif" fill="#0a0a0c">
<text x="428" y="605" font-size="67">526 cm<tspan font-size="39" dy="-22.3">−1</tspan><tspan dy="22.3" dx="-8" font-size="67"> (Co</tspan><tspan font-size="39" dy="-22.3">3+</tspan><tspan font-size="67" dy="22.3" dx="5">)</tspan></text>
<text x="479" y="721.5" font-size="67">596 cm<tspan font-size="39" dy="-22.3">−1</tspan><tspan dy="22.3" dx="-8" font-size="67"> (Co</tspan><tspan font-size="39" dy="-22.3">2+</tspan><tspan font-size="67" dy="22.3" dx="5">)</tspan></text>
<text x="200.5" y="956.5" font-size="67">623 cm<tspan font-size="39" dy="-22.3">−1</tspan></text>
<text x="524" y="1162.5" font-size="67">802 cm<tspan font-size="39" dy="-22.3">−1</tspan></text>
<text x="335.5" y="1358" font-size="67">588 cm<tspan font-size="39" dy="-22.3">−1</tspan></text>
<text x="193" y="1413.5" font-size="67">516 cm<tspan font-size="39" dy="-22.3">−1</tspan></text>
<text x="958" y="1298" font-size="67">1554 cm<tspan font-size="39" dy="-22.3">−1</tspan></text>
<text x="974.8" y="1377.5" font-size="67">(−COOH region)</text>
<text x="1394" y="876.5" font-size="67">O−H</text>
<text x="274.4" y="1536" font-size="68" text-anchor="end">500</text>
<text x="540.7" y="1536" font-size="68" text-anchor="end">1000</text>
<text x="800.2" y="1536" font-size="68" text-anchor="end">1500</text>
<text x="1048.2" y="1536" font-size="68" text-anchor="end">2000</text>
<text x="1298.2" y="1536" font-size="68" text-anchor="end">2500</text>
<text x="1553.2" y="1536" font-size="68" text-anchor="end">3000</text>
<text x="1805.5" y="1536" font-size="68" text-anchor="end">3500</text>
<text x="2060.4" y="1536" font-size="68" text-anchor="end">4000</text>
<text x="568.6" y="1665" font-size="116.6">Wavenumber (cm<tspan font-size="67" dy="-38.5">−</tspan><tspan font-size="67" dx="2">1</tspan><tspan font-size="116.6" dy="38.5" dx="7">)</tspan></text>
<text transform="translate(106.3,1105) rotate(-90)" font-size="116.9">Intensity (a.u.)</text>
</g>
<g font-family="'Liberation Serif', serif" font-style="italic" fill="#0a0a0c">
<text transform="translate(1871.0,241.3) skewX(-5.5) scale(1.089,1)" font-size="108.4">e</text>
<text transform="translate(1868.7,437.0) skewX(-5.5) scale(1.007,1)" font-size="119.4">d</text>
<text transform="translate(1878.3,727.9) skewX(-5.5) scale(1.03,1)" font-size="108.8">c</text>
<text transform="translate(1887.2,1011.2) skewX(-5.5) scale(1.023,1)" font-size="113.7">b</text>
<text transform="translate(1884.5,1316.7) skewX(-5.5) scale(1.07,1)" font-size="111.7">a</text>
</g>
</svg>
</body></html>
